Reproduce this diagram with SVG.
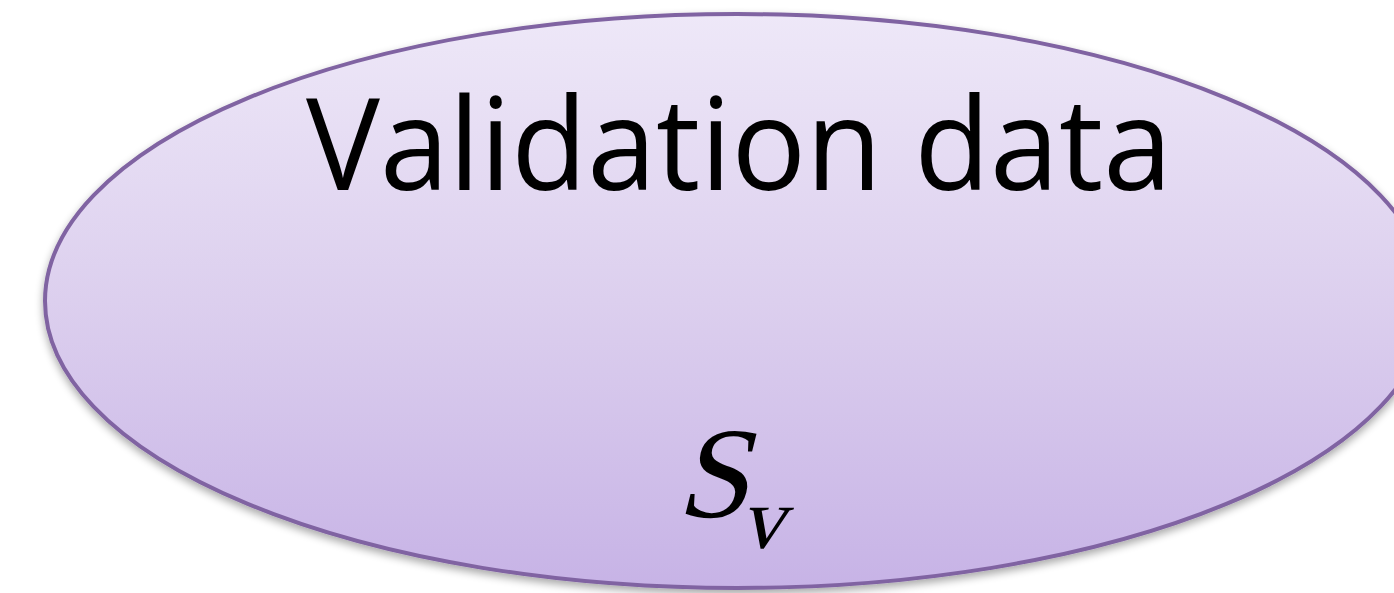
<svg xmlns="http://www.w3.org/2000/svg" width="1394" height="593" viewBox="0 0 1394 593">
  <style>
    .node-shape { stroke: #8064a2; stroke-width: 4; fill: url(#fillGrad); filter: url(#shadow); }
    .title { font-family: "Open Sans", "DejaVu Sans", sans-serif; font-size: 128px; fill: #000; }
    .math { font-family: "Liberation Serif", "DejaVu Serif", serif; font-style: normal; fill: #000; }
  </style>
  <defs>
    <linearGradient id="fillGrad" x1="0" y1="0" x2="0" y2="1">
      <stop offset="0" stop-color="#eee8f8"/>
      <stop offset="0.5" stop-color="#dccfee"/>
      <stop offset="1" stop-color="#c7b3e6"/>
    </linearGradient>
    <filter id="shadow" x="-10%" y="-10%" width="120%" height="125%">
      <feGaussianBlur in="SourceAlpha" stdDeviation="4"/>
      <feOffset dx="0" dy="4" result="b"/>
      <feComponentTransfer><feFuncA type="linear" slope="0.35"/></feComponentTransfer>
      <feMerge><feMergeNode/><feMergeNode in="SourceGraphic"/></feMerge>
    </filter>
  </defs>
  <rect width="1394" height="593" fill="#ffffff"/>
  <g id="validation-data">
    <ellipse class="node-shape" cx="737" cy="301" rx="692" ry="287"/>
    <text class="title" x="739" y="190" text-anchor="middle" textLength="866" lengthAdjust="spacingAndGlyphs">Validation data</text>
    <g transform="translate(0,517) skewX(-14) translate(0,-517)">
      <text class="math" x="676" y="517" style="font-size:130px">S</text>
    </g>
    <g transform="translate(0,548) skewX(-14) translate(0,-548)">
      <text class="math" x="740" y="548" style="font-size:88px">v</text>
    </g>
  </g>
  <g id="connectors"/>
</svg>
